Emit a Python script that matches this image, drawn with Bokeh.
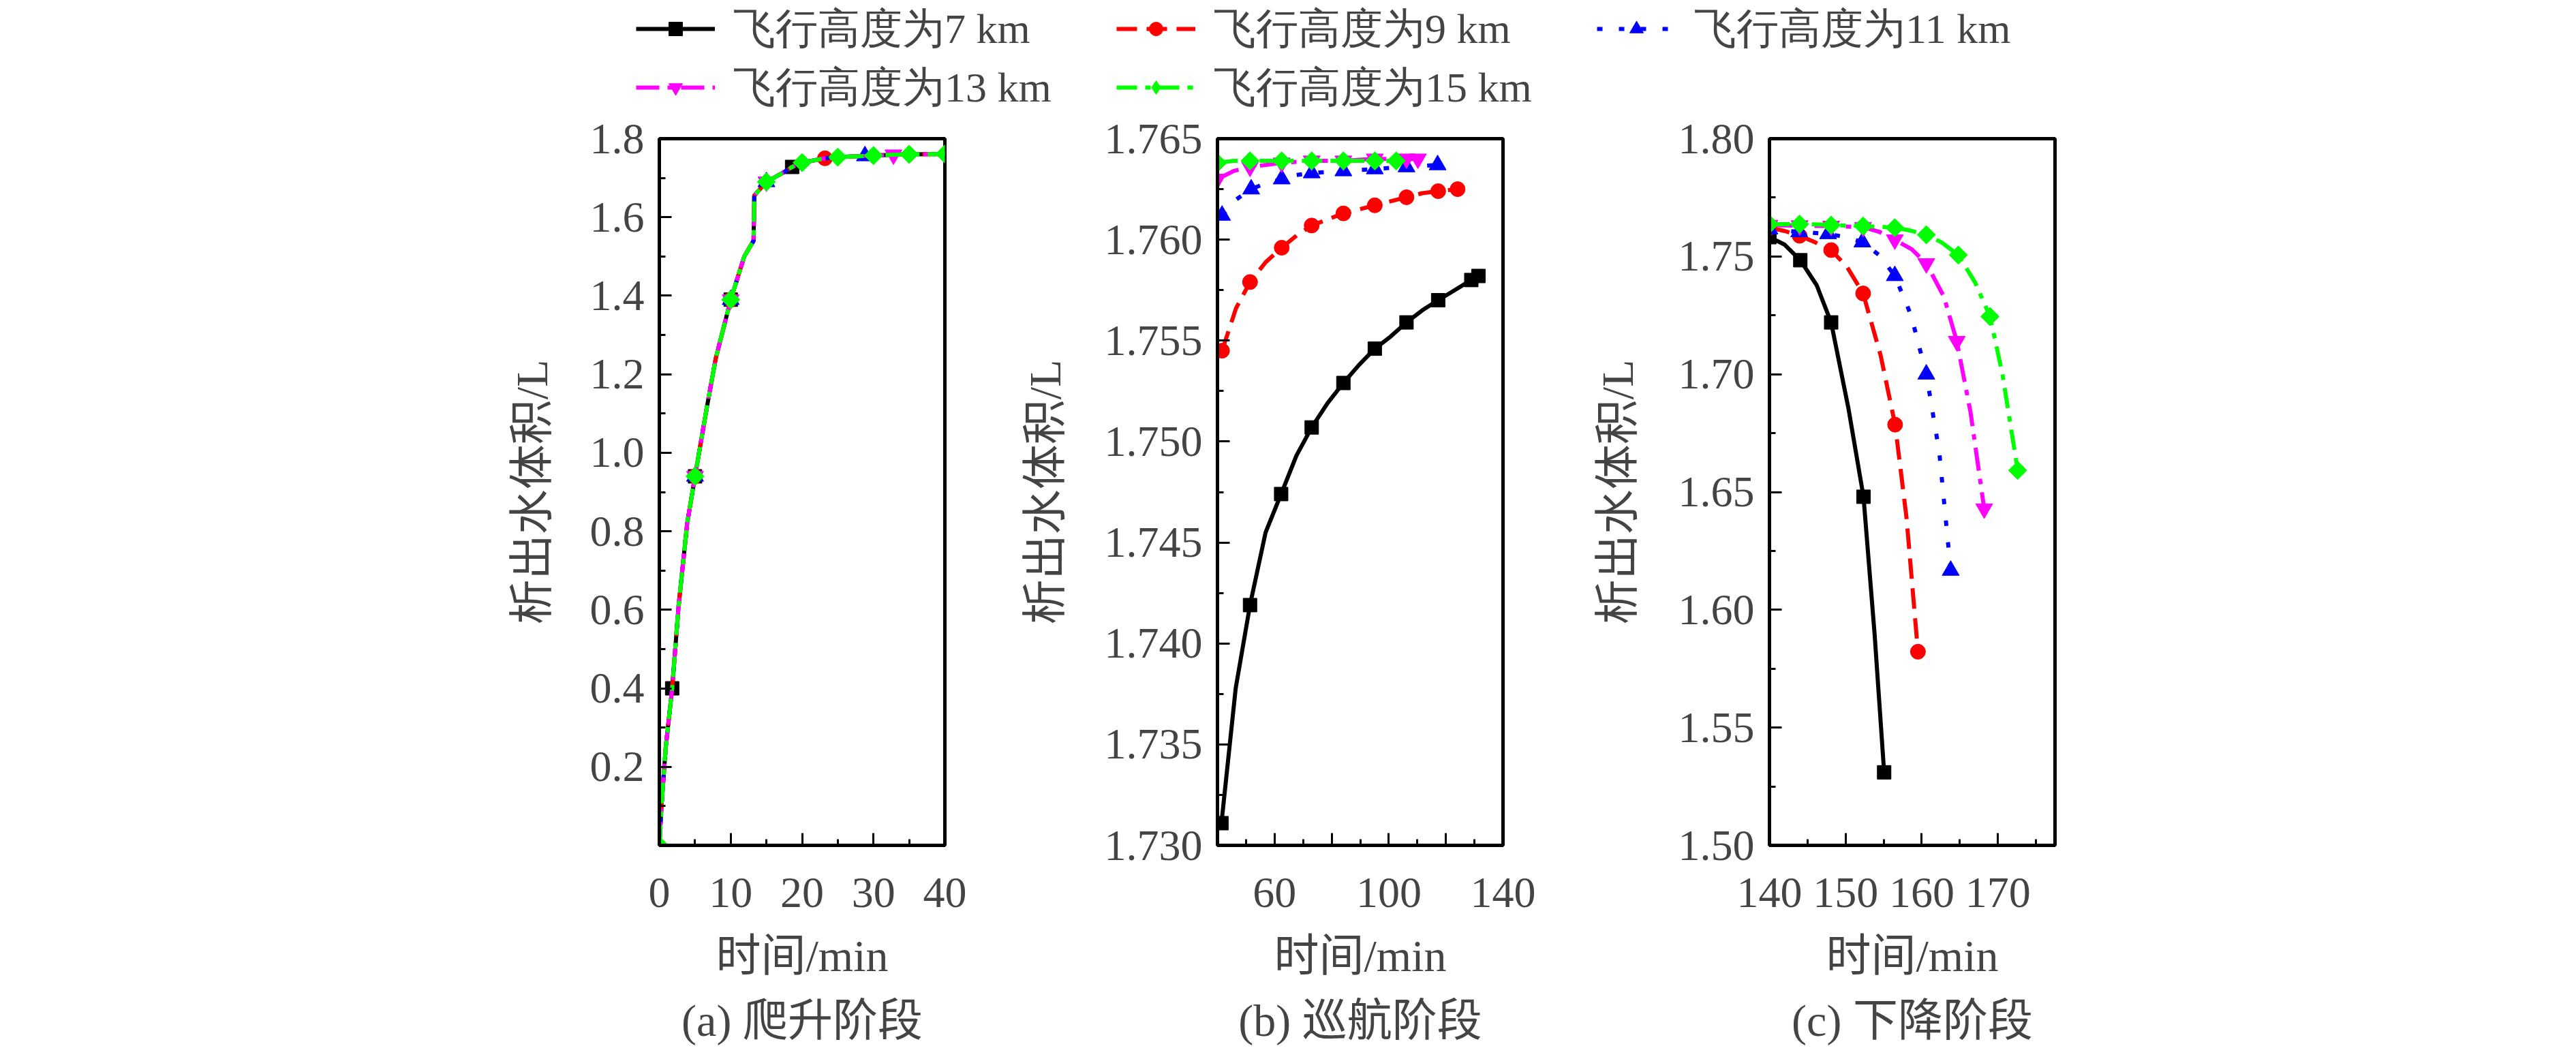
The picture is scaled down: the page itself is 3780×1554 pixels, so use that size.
import math

from bokeh.plotting import figure
from bokeh.layouts import column, row
from bokeh.models import Range1d, FixedTicker, PrintfTickFormatter, Legend, LegendItem
from bokeh.embed import file_html
from bokeh.resources import INLINE

SERIF = "Liberation Serif, Noto Sans CJK SC"

# legend labels
labels = ["飞行高度为7 km", "飞行高度为9 km", "飞行高度为11 km", "飞行高度为13 km", "飞行高度为15 km"]

# (a) climb: all five curves lie on top of each other
climb_t = [0, 0.3, 0.9, 1.8, 2.7, 3.9, 5, 6.6, 7.9, 10, 11.9, 13.2, 13.3, 15, 17.5, 18.6,
           20, 23.2, 25, 28.8, 30, 32.8, 35, 40]
climb_v = [0, 0.10, 0.25, 0.40, 0.61, 0.82, 0.94, 1.11, 1.24, 1.39, 1.50, 1.54, 1.655, 1.69,
           1.715, 1.728, 1.739, 1.750, 1.753, 1.756, 1.757, 1.759, 1.760, 1.761]
# which climb points carry a marker, per altitude
climb_marks_7 = [3, 6, 9, 15]
climb_marks_9 = [6, 9, 17]
climb_marks_11 = [6, 9, 13, 19]
climb_marks_13 = [6, 9, 13, 21]
climb_marks_15 = [0, 6, 9, 13, 16, 18, 20, 22, 23]

# (b) cruise, markers on every second point
cruise_t_7 = [41.4, 46.4, 51.4, 56.85, 62.3, 67.65, 73.0, 78.55, 84.1, 89.6, 95.1, 100.65,
              106.2, 111.75, 117.3, 123.1, 128.9, 130.15, 131.4]
cruise_v_7 = [1.7311, 1.7378, 1.7419, 1.7455, 1.7474, 1.7493, 1.7507, 1.7519, 1.7529, 1.7538,
              1.7546, 1.7552, 1.7559, 1.7565, 1.7570, 1.7575, 1.7580, 1.7581, 1.7582]
cruise_t_9 = [41.6, 46.5, 51.4, 57.0, 62.5, 67.7, 73.0, 78.5, 84.1, 89.6, 95.1, 100.6,
              106.2, 111.7, 117.3, 120.7, 124.1]
cruise_v_9 = [1.7545, 1.7566, 1.7579, 1.7589, 1.7596, 1.7602, 1.7607, 1.7610, 1.7613, 1.7615,
              1.7617, 1.7619, 1.7621, 1.7623, 1.7624, 1.76245, 1.7625]
cruise_t_11 = [41.6, 46.7, 51.8, 57.1, 62.5, 67.7, 73.0, 78.5, 84.1, 89.6, 95.1, 100.6,
               106.2, 111.6, 117.1]
cruise_v_11 = [1.7612, 1.7620, 1.7625, 1.7628, 1.7630, 1.7632, 1.7633, 1.76335, 1.7634,
               1.76345, 1.7635, 1.76355, 1.7636, 1.76365, 1.7637]
cruise_t_13 = [40.0, 45.7, 51.4, 57.0, 62.5, 67.7, 73.0, 78.5, 84.1, 89.6, 95.1, 100.6,
               106.2, 108.2, 110.2]
cruise_v_13 = [1.7630, 1.7634, 1.7636, 1.7637, 1.7638, 1.76385, 1.7639, 1.7639, 1.7639,
               1.76395, 1.7640, 1.7640, 1.7640, 1.7640, 1.7640]
cruise_t_15 = [40.0, 45.7, 51.4, 57.0, 62.5, 67.7, 73.0, 78.5, 84.1, 89.6, 95.1, 98.9, 102.6]
cruise_v_15 = [1.7638, 1.7639, 1.7639, 1.7639, 1.7639, 1.7639, 1.7639, 1.7639, 1.7639,
               1.7639, 1.7639, 1.7639, 1.7639]

# (c) descent, markers on every second point
desc_t_7 = [140.0, 142.0, 144.05, 146.2, 148.1, 150.36, 152.35, 153.8, 155.06]
desc_v_7 = [1.7582, 1.7550, 1.7484, 1.7378, 1.7220, 1.6857, 1.6480, 1.5900, 1.5310]
desc_t_9 = [140.0, 142.0, 143.96, 146.0, 148.1, 150.2, 152.3, 154.6, 156.5, 158.0, 159.5]
desc_v_9 = [1.7622, 1.7608, 1.7588, 1.7560, 1.7527, 1.7455, 1.7343, 1.7080, 1.6786, 1.6390, 1.5822]
desc_t_11 = [140.0, 142.0, 143.9, 145.8, 147.7, 150.0, 152.2, 154.4, 156.46, 158.6, 160.6,
             162.3, 163.8]
desc_v_11 = [1.7616, 1.7610, 1.7604, 1.7600, 1.7596, 1.7582, 1.7561, 1.7506, 1.7418, 1.7250,
             1.7000, 1.6670, 1.6167]
desc_t_13 = [140.0, 142.0, 143.96, 146.0, 148.1, 150.2, 152.3, 154.4, 156.46, 158.7, 160.6,
             162.9, 164.6, 166.4, 168.2]
desc_v_13 = [1.7633, 1.7632, 1.7631, 1.7630, 1.7629, 1.7627, 1.7624, 1.7605, 1.7571, 1.7530,
             1.7470, 1.7330, 1.7140, 1.6840, 1.6429]
desc_t_15 = [140.0, 142.0, 143.96, 146.0, 148.1, 150.2, 152.3, 154.4, 156.46, 158.5, 160.6,
             162.6, 164.8, 167.0, 168.96, 170.6, 172.6]
desc_v_15 = [1.7637, 1.7637, 1.7637, 1.7636, 1.7633, 1.7631, 1.7629, 1.7626, 1.7622, 1.7610,
             1.7592, 1.7560, 1.7506, 1.7390, 1.7245, 1.7000, 1.6592]

colors = ["#000000", "#ff0000", "#0000ff", "#ff00ff", "#00ff00"]
dashes = ["solid", "30 14", "8 24", "34 12 8 12", "30 12 8 12"]
# the "diamond" of the original is a square turned by 45 degrees
markers = ["square", "circle", "triangle", "inverted_triangle", "square"]
angles = [0, 0, 0, 0, math.pi / 4]
marker_sizes = [20, 22, 25, 25, 19]
line_widths = [6, 6, 6, 6, 6]
# legend glyphs ignore the angle, so the legend uses bokeh's own diamond
legend_markers = ["square", "circle", "triangle", "inverted_triangle", "diamond"]


def make_panel(xr, yr, xticks, xminor, yticks, yminor, yfmt, caption, left, right, ylab_standoff):
    p = figure(frame_width=419, frame_height=1037,
               x_range=Range1d(*xr), y_range=Range1d(*yr),
               min_border_left=left, min_border_right=right,
               min_border_top=37, min_border_bottom=298,
               x_axis_label="时间/min", y_axis_label="析出水体积/L",
               title=caption, title_location="below",
               tools="", toolbar_location=None, output_backend="svg")
    p.grid.visible = False
    p.outline_line_color = "black"
    p.outline_line_width = 5
    p.xaxis.ticker = FixedTicker(ticks=xticks, minor_ticks=xminor)
    p.yaxis.ticker = FixedTicker(ticks=yticks, minor_ticks=yminor)
    p.yaxis.formatter = PrintfTickFormatter(format=yfmt)
    for ax in p.axis:
        ax.axis_line_width = 5
        ax.major_tick_in = 18
        ax.major_tick_out = 0
        ax.minor_tick_in = 9
        ax.minor_tick_out = 0
        ax.major_tick_line_width = 3
        ax.minor_tick_line_width = 3
        ax.major_label_text_font = SERIF
        ax.major_label_text_font_size = "64px"
        ax.axis_label_text_font = SERIF
        ax.axis_label_text_font_size = "66px"
        ax.axis_label_text_font_style = "normal"
    p.xaxis.major_label_standoff = 48
    p.yaxis.major_label_standoff = 22
    p.xaxis.axis_label_standoff = 32
    p.yaxis.axis_label_standoff = ylab_standoff
    p.title.text_font = SERIF
    p.title.text_font_size = "66px"
    p.title.text_font_style = "normal"
    p.title.align = "center"
    p.title.standoff = 34
    return p


def draw(p, t, v, mt, mv, i):
    p.line(t, v, line_color=colors[i], line_width=line_widths[i], line_dash=dashes[i])
    p.scatter(mt, mv, marker=markers[i], size=marker_sizes[i], angle=angles[i],
              fill_color=colors[i], line_color=colors[i])


pa = make_panel((0, 40), (0, 1.8), [0, 10, 20, 30, 40], [5, 15, 25, 35],
                [0.2, 0.4, 0.6, 0.8, 1.0, 1.2, 1.4, 1.6, 1.8],
                [0.1, 0.3, 0.5, 0.7, 0.9, 1.1, 1.3, 1.5, 1.7],
                "%.1f", "(a) 爬升阶段", 967, 86, 46)
climb_marks = [climb_marks_7, climb_marks_9, climb_marks_11, climb_marks_13, climb_marks_15]
for i, marks in enumerate(climb_marks):
    draw(pa, climb_t, climb_v, [climb_t[k] for k in marks], [climb_v[k] for k in marks], i)

pb = make_panel((40, 140), (1.730, 1.765), [40, 60, 80, 100, 120, 140],
                [50, 70, 90, 110, 130],
                [1.730, 1.735, 1.740, 1.745, 1.750, 1.755, 1.760, 1.765],
                [1.7325, 1.7375, 1.7425, 1.7475, 1.7525, 1.7575, 1.7625],
                "%.3f", "(b) 巡航阶段", 314, 77, 48)
pb.xaxis.major_label_overrides = {40: "", 80: "", 120: ""}
cruise = [(cruise_t_7, cruise_v_7), (cruise_t_9, cruise_v_9), (cruise_t_11, cruise_v_11),
          (cruise_t_13, cruise_v_13), (cruise_t_15, cruise_v_15)]
for i, (t, v) in enumerate(cruise):
    draw(pb, t, v, t[::2], v[::2], i)

pc = make_panel((140, 177.5), (1.50, 1.80), [140, 150, 160, 170], [145, 155, 165, 175],
                [1.50, 1.55, 1.60, 1.65, 1.70, 1.75, 1.80],
                [1.525, 1.575, 1.625, 1.675, 1.725, 1.775],
                "%.2f", "(c) 下降阶段", 314, 700, 50)
descent = [(desc_t_7, desc_v_7), (desc_t_9, desc_v_9), (desc_t_11, desc_v_11),
           (desc_t_13, desc_v_13), (desc_t_15, desc_v_15)]
for i, (t, v) in enumerate(descent):
    draw(pc, t, v, t[::2], v[::2], i)

# legend strip on top of the three panels; its renderers hold the descent
# data but the strip's ranges keep them out of sight, only the legend shows
leg = figure(frame_width=2831, frame_height=166, min_border_left=933, min_border_right=0,
             min_border_top=0, min_border_bottom=0,
             x_range=Range1d(0, 1), y_range=Range1d(0, 1),
             x_axis_location=None, y_axis_location=None,
             tools="", toolbar_location=None, output_backend="svg")
leg.grid.visible = False
leg.outline_line_color = None
items = []
for i, (lab, (t, v)) in enumerate(zip(labels, descent)):
    r1 = leg.line(t, v, line_color=colors[i], line_width=line_widths[i], line_dash=dashes[i])
    r2 = leg.scatter(t, v, marker=legend_markers[i],
                     fill_color=colors[i], line_color=colors[i])
    items.append(LegendItem(label=lab, renderers=[r1, r2]))
# only the latin font is named here so the row height follows its metrics;
# the browser falls back to a CJK font for the Chinese characters
legend = Legend(items=items, orientation="horizontal", ncols=3, location="top_left",
                glyph_width=116, glyph_height=50, label_standoff=27,
                label_width=560, label_height=60, spacing=2, padding=0, margin=0,
                border_line_color=None, background_fill_alpha=0,
                label_text_font="Liberation Serif", label_text_font_size="62px")
leg.add_layout(legend, "center")

layout = column(leg, row(pa, pb, pc))
open("out.html", "w").write(file_html(layout, INLINE))
